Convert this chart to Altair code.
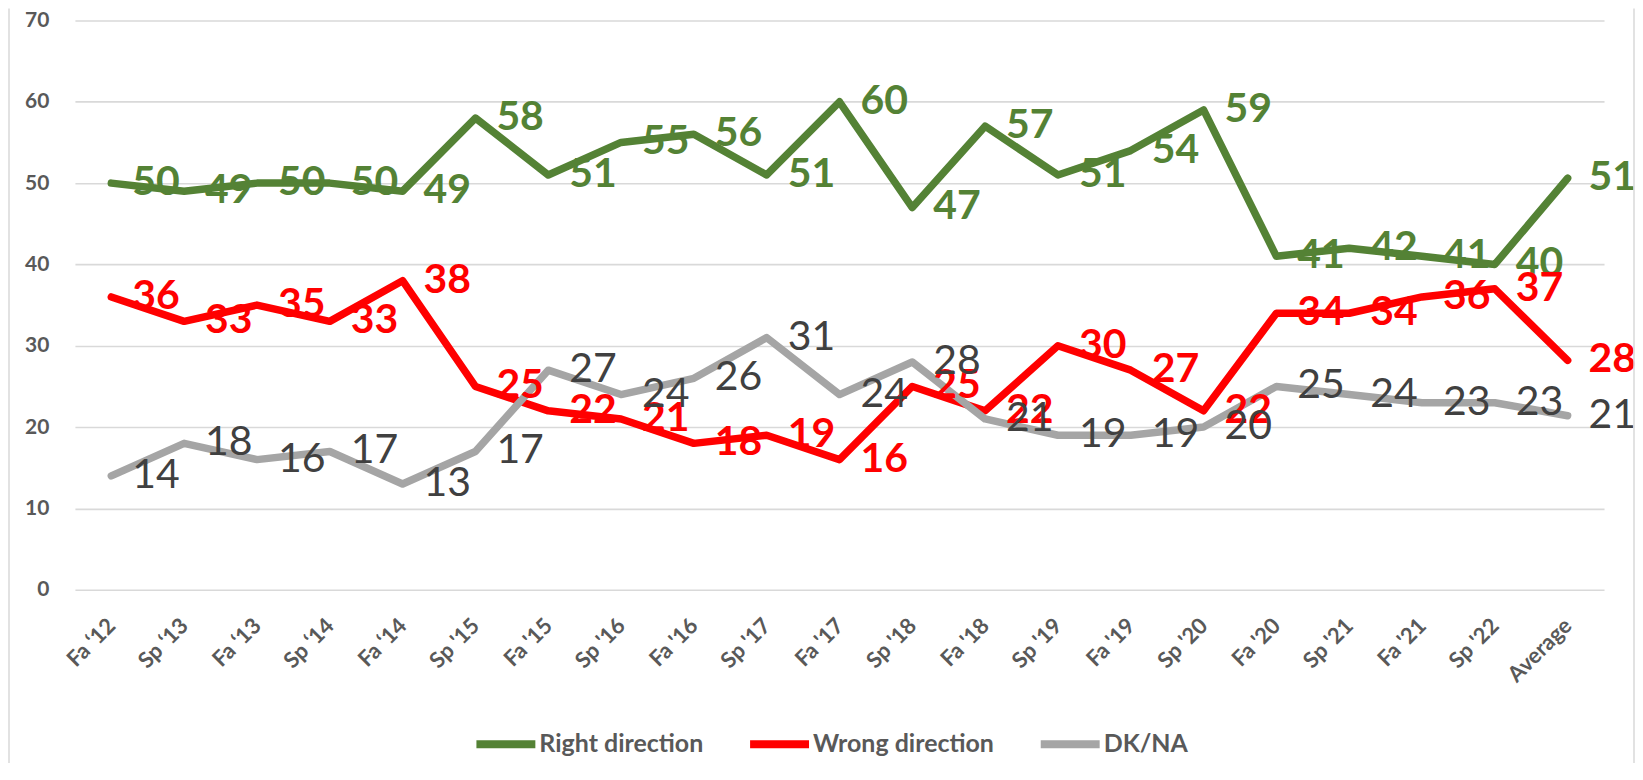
import altair as alt
import pandas as pd

categories = ["Fa \u201812", "Sp \u201813", "Fa \u201813", "Sp \u201814", "Fa \u201814",
              "Sp '15", "Fa '15", "Sp '16", "Fa '16", "Sp '17", "Fa '17", "Sp '18",
              "Fa '18", "Sp '19", "Fa '19", "Sp '20", "Fa '20", "Sp '21", "Fa '21",
              "Sp '22", "Average"]
right_direction = [50, 49, 50, 50, 49, 58, 51, 55, 56, 51, 60, 47, 57, 51, 54, 59, 41, 42, 41, 40, 50.6]
wrong_direction = [36, 33, 35, 33, 38, 25, 22, 21, 18, 19, 16, 25, 22, 30, 27, 22, 34, 34, 36, 37, 28.2]
dk_na = [14, 18, 16, 17, 13, 17, 27, 24, 26, 31, 24, 28, 21, 19, 19, 20, 25, 24, 23, 23, 21.4]

series_names = ["Right direction", "Wrong direction", "DK/NA"]
series_colors = ["#548235", "#FF0000", "#A5A5A5"]

rows = []
for name, vals in zip(series_names, [right_direction, wrong_direction, dk_na]):
    for c, v in zip(categories, vals):
        rows.append({"cat": c, "series": name, "value": v})
df = pd.DataFrame(rows)

FONT = "Lato"
color_scale = alt.Scale(domain=series_names, range=series_colors)

x_enc = alt.X("cat:N", sort=categories,
              scale=alt.Scale(type="point", padding=0.5),
              axis=alt.Axis(title=None, labelAngle=-45, labelAlign="right",
                            labelBaseline="middle", labelPadding=32,
                            labelFont=FONT, labelFontSize=22, labelFontWeight="bold",
                            labelColor="#595959", ticks=False, tickSize=0,
                            domain=False, grid=False, labelOverlap=False))
y_enc = alt.Y("value:Q", scale=alt.Scale(domain=[0, 70], nice=False),
              axis=alt.Axis(title=None, values=[0, 10, 20, 30, 40, 50, 60, 70],
                            labelFont=FONT, labelFontSize=21, labelFontWeight="bold",
                            labelColor="#595959", labelPadding=26, ticks=False,
                            tickSize=0, domain=False, grid=True,
                            gridColor="#d9d9d9", gridWidth=1.6))

base = alt.Chart(df)

lines = base.mark_line(strokeWidth=7.5, strokeCap="round", strokeJoin="round").encode(
    x=x_enc, y=y_enc,
    color=alt.Color("series:N", scale=color_scale, sort=series_names,
                    legend=alt.Legend(title=None, orient="none", direction="horizontal",
                                      legendX=398, legendY=691,
                                      symbolType="stroke", symbolSize=3481,
                                      symbolStrokeWidth=8, labelFont=FONT,
                                      labelFontSize=25, labelFontWeight="bold",
                                      labelColor="#595959", labelOffset=0,
                                      labelLimit=400, columnPadding=30, padding=0)),
    detail="series:N",
)

bold_labels = base.transform_filter(alt.datum.series != "DK/NA").mark_text(
    align="left", baseline="middle", dx=21, font=FONT, fontSize=41, fontWeight="bold"
).encode(
    x=alt.X("cat:N", sort=categories), y="value:Q",
    text=alt.Text("value:Q", format=".0f"),
    color=alt.Color("series:N", scale=color_scale, legend=None),
)

grey_labels = base.transform_filter(alt.datum.series == "DK/NA").mark_text(
    align="left", baseline="middle", dx=21, font=FONT, fontSize=41,
    fontWeight="normal", color="#404040"
).encode(
    x=alt.X("cat:N", sort=categories), y="value:Q",
    text=alt.Text("value:Q", format=".0f"),
)

border_df = pd.DataFrame({"k": [0, 1]})
left_border = alt.Chart(border_df).transform_filter(alt.datum.k == 0).mark_rule(
    color="#d9d9d9", strokeWidth=1.5
).encode(x=alt.value(-66), y=alt.value(-12), y2=alt.value(760))
right_border = alt.Chart(border_df).transform_filter(alt.datum.k == 1).mark_rule(
    color="#d9d9d9", strokeWidth=1.5
).encode(x=alt.value(1561), y=alt.value(-12), y2=alt.value(760))

chart = alt.layer(lines, bold_labels, grey_labels, left_border, right_border).properties(
    width=1531, height=570,
    autosize=alt.AutoSizeParams(type="none"),
    padding={"left": 67, "top": 12, "right": 31, "bottom": 173},
    background="white",
).configure_view(stroke=None)

chart.save("out.html", embed_options={"renderer": "svg", "actions": False})
